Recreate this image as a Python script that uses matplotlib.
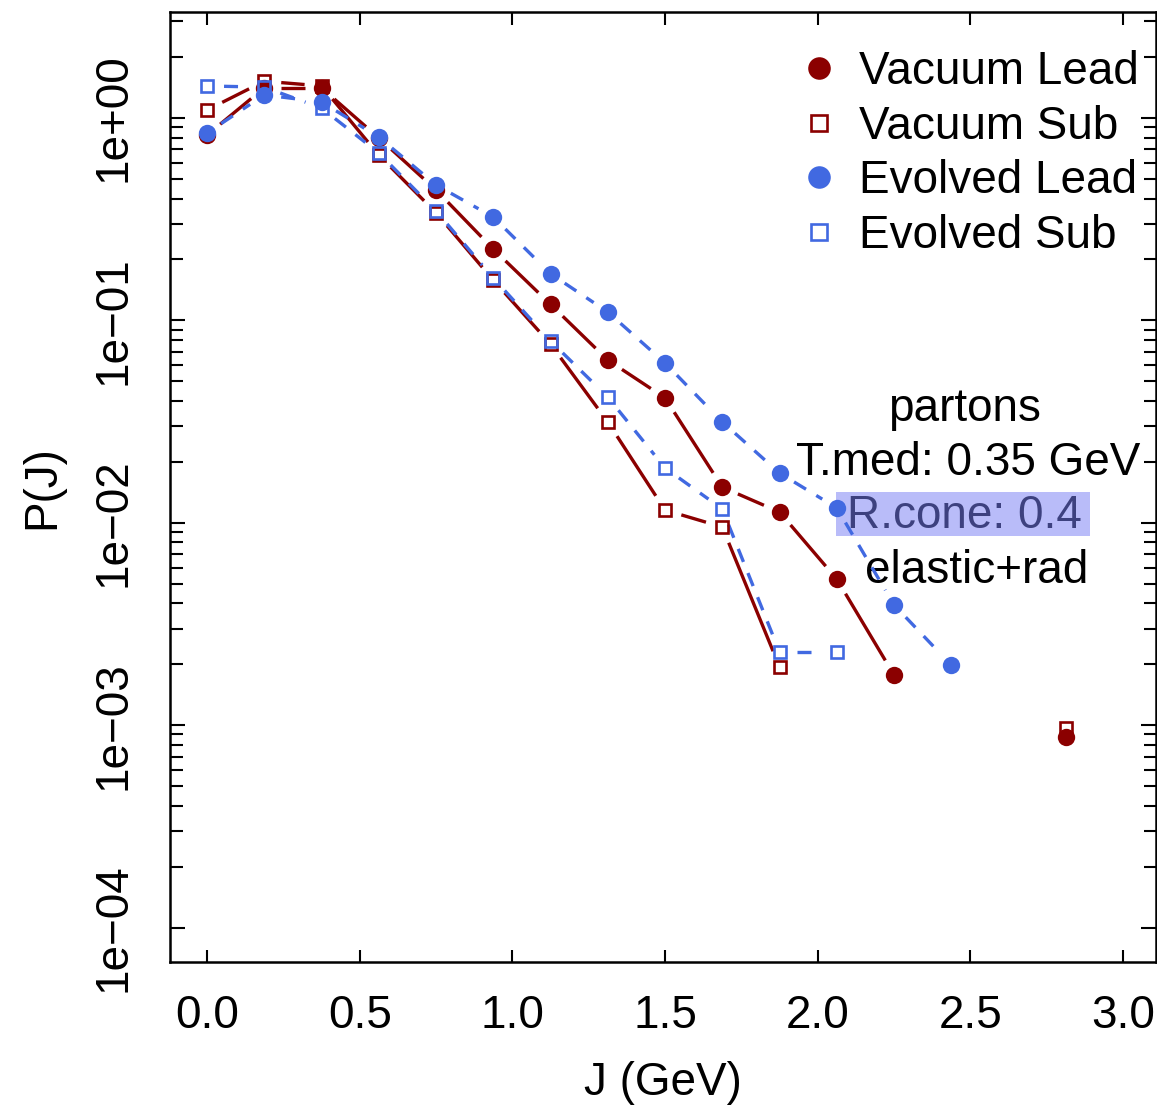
import numpy as np
import matplotlib
matplotlib.use("Agg")
import matplotlib.pyplot as plt
from matplotlib.lines import Line2D
from matplotlib.patches import Rectangle
from matplotlib.ticker import NullFormatter, FixedLocator, FixedFormatter

plt.rcParams['font.family'] = ['Liberation Sans', 'DejaVu Sans']

nan = np.nan

# jet-shape bins J (GeV)
j_bins = [0.0, 0.1875, 0.375, 0.5625, 0.75, 0.9375, 1.125, 1.3125,
          1.5, 1.6875, 1.875, 2.0625, 2.25, 2.4375, 2.8125]

# P(J) for each sample (nan = empty bin)
vacuum_lead = [0.824, 1.41, 1.41, 0.797, 0.441, 0.225, 0.120, 0.0637,
               0.0414, 0.0150, 0.0113, 0.00527, 0.00177, nan, 0.000875]
vacuum_sub = [1.095, 1.52, 1.44, 0.656, 0.340, 0.158, 0.0764, 0.0315,
              0.01156, 0.00953, 0.00194, nan, nan, nan, 0.000968]
evolved_lead = [0.843, 1.30, 1.20, 0.805, 0.467, 0.324, 0.170, 0.110,
                0.0616, 0.0315, 0.0176, 0.01184, 0.00393, 0.00198, nan]
evolved_sub = [1.44, 1.42, 1.12, 0.672, 0.347, 0.162, 0.0791, 0.0418,
               0.01866, 0.01170, 0.00230, 0.00230, nan, nan, nan]

series_labels = ["Vacuum Lead", "Vacuum Sub", "Evolved Lead", "Evolved Sub"]
x_ticks = [0.0, 0.5, 1.0, 1.5, 2.0, 2.5, 3.0]
x_tick_labels = ["0.0", "0.5", "1.0", "1.5", "2.0", "2.5", "3.0"]
y_ticks = [1e-4, 1e-3, 1e-2, 1e-1, 1e0]
y_tick_labels = ["1e\u221204", "1e\u221203", "1e\u221202", "1e\u221201", "1e+00"]
info_lines = ["partons", "T.med: 0.35 GeV", "R.cone: 0.4", "elastic+rad"]

RED = "#8B0000"
BLUE = "#4169E1"
FS = 33

W, H = 1157, 1111
fig = plt.figure(figsize=(W / 100, H / 100), dpi=100)
ax = fig.add_axes([170 / W, (H - 962) / H, (1156 - 170) / W, (962 - 12) / H])
ax.set_yscale("log")
ax.set_xlim(-0.1213, 3.108)
ax.set_ylim(10 ** -4.170, 10 ** 0.5237)


def draw_series(x, y, color, marker, ls, ms, mew, filled):
    """Points joined by segments that stop short of each marker (R type='b')."""
    x = np.asarray(x, float)
    y = np.asarray(y, float)
    gap = 17.0  # px
    tr = ax.transData
    inv = tr.inverted()
    for i in range(len(x) - 1):
        if not (np.isfinite(y[i]) and np.isfinite(y[i + 1])):
            continue
        p0 = tr.transform((x[i], y[i]))
        p1 = tr.transform((x[i + 1], y[i + 1]))
        d = p1 - p0
        L = np.hypot(*d)
        if L <= 2 * gap:
            continue
        u = d / L
        q = inv.transform(np.array([p0 + u * gap, p1 - u * gap]))
        ax.plot(q[:, 0], q[:, 1], color=color, lw=2.4, linestyle=ls,
                solid_capstyle="butt", dash_capstyle="butt", zorder=2)
    ok = np.isfinite(y)
    if filled:
        ax.plot(x[ok], y[ok], linestyle="none", marker=marker, ms=ms,
                mfc=color, mec=color, mew=0, zorder=3)
    else:
        ax.plot(x[ok], y[ok], linestyle="none", marker=marker, ms=ms,
                mfc="none", mec=color, mew=mew, zorder=3)


dash = (0, (4.2, 3.6))
draw_series(j_bins, vacuum_lead, RED, "o", "-", 12.5, 0, True)
draw_series(j_bins, vacuum_sub, RED, "s", "-", 9.0, 1.9, False)
draw_series(j_bins, evolved_lead, BLUE, "o", dash, 12.5, 0, True)
draw_series(j_bins, evolved_sub, BLUE, "s", dash, 9.0, 1.9, False)

# axes styling
for sp in ax.spines.values():
    sp.set_linewidth(1.8)
ax.xaxis.set_major_locator(FixedLocator(x_ticks))
ax.xaxis.set_major_formatter(FixedFormatter(x_tick_labels))
ax.yaxis.set_major_locator(FixedLocator(y_ticks))
ax.yaxis.set_major_formatter(FixedFormatter(y_tick_labels))
minor_y = [m * 10.0 ** e for e in range(-4, 1) for m in range(2, 10)]
ax.yaxis.set_minor_locator(FixedLocator(minor_y))
ax.yaxis.set_minor_formatter(NullFormatter())
ax.tick_params(axis="both", which="both", direction="in", top=True, right=True,
               width=1.5, labelsize=FS)
ax.tick_params(axis="x", which="major", length=9, pad=23)
ax.tick_params(axis="y", which="major", length=11, pad=25, labelrotation=90)
ax.tick_params(axis="y", which="minor", length=9)
for lab in ax.get_yticklabels():
    lab.set_verticalalignment("center")

ax.set_xlabel("J (GeV)", fontsize=FS)
ax.set_ylabel("P(J)", fontsize=FS)
ax.xaxis.set_label_coords(0.5, -0.104)
ax.yaxis.set_label_coords(-0.107, 0.5)

# legend (symbols only)
handles = [
    Line2D([], [], ls="none", marker="o", ms=12.5, mfc=RED, mec=RED, mew=0),
    Line2D([], [], ls="none", marker="s", ms=9.0, mfc="none", mec=RED, mew=1.9),
    Line2D([], [], ls="none", marker="o", ms=12.5, mfc=BLUE, mec=BLUE, mew=0),
    Line2D([], [], ls="none", marker="s", ms=9.0, mfc="none", mec=BLUE, mew=1.9),
]
ax.legend(handles, series_labels, loc="upper left", bbox_to_anchor=(0.6355, 0.9596),
          frameon=False, fontsize=FS, borderpad=0, borderaxespad=0,
          handlelength=0.97, handletextpad=0.39, labelspacing=0.23, markerscale=1.3)

# run description
text_x = [0.806, 0.810, 0.806, 0.818]
baselines = [0.5695, 0.5126, 0.4568, 0.399]
for txt, xc, yb in zip(info_lines, text_x, baselines):
    color = "#3D417F" if txt.startswith("R.cone") else "black"
    ax.text(xc, yb, txt, transform=ax.transAxes, ha="center", va="baseline",
            fontsize=FS, color=color, zorder=1)
ax.add_patch(Rectangle((0.675, 0.4484), 0.258, 0.0463, transform=ax.transAxes,
                       facecolor="#B9BCF9", edgecolor="none", zorder=0.5))

fig.savefig("out.png", dpi=100)
